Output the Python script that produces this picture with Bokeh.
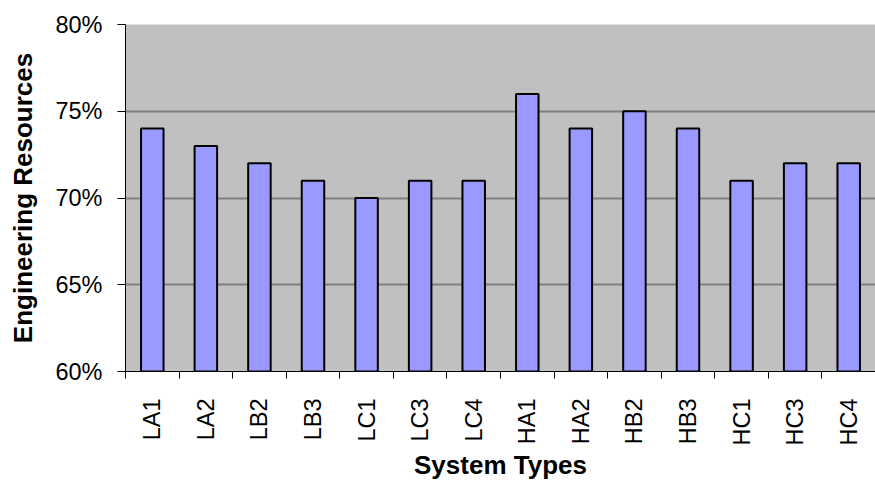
from bokeh.plotting import figure
from bokeh.models import FixedTicker, NumeralTickFormatter, Range1d, ColumnDataSource
from bokeh.embed import file_html
from bokeh.resources import INLINE
import math

categories = ["LA1", "LA2", "LB2", "LB3", "LC1", "LC3", "LC4",
              "HA1", "HA2", "HB2", "HB3", "HC1", "HC3", "HC4"]
values = [0.74, 0.73, 0.72, 0.71, 0.70, 0.71, 0.71,
          0.76, 0.74, 0.75, 0.74, 0.71, 0.72, 0.72]
y_ticks = [0.60, 0.65, 0.70, 0.75, 0.80]

n = len(categories)
xs = [i + 0.5 for i in range(n)]
src = ColumnDataSource(dict(x=xs, top=values, cat=categories))

p = figure(width=875, height=482, output_backend="svg", toolbar_location=None,
           x_range=Range1d(0, n), y_range=Range1d(0.60, 0.80))
p.min_border_left = 125
p.min_border_right = 0
p.min_border_top = 24
p.min_border_bottom = 110
p.background_fill_color = "#C0C0C0"
p.border_fill_color = "white"
p.outline_line_color = None

p.vbar(x="x", top="top", bottom=0.60, width=0.42, source=src,
       fill_color="#9999FF", line_color="black", line_width=2)

# x axis
p.xaxis.ticker = FixedTicker(ticks=xs, minor_ticks=list(range(n + 1)))
p.xaxis.major_label_overrides = {x: c for x, c in zip(xs, categories)}
p.xaxis.major_tick_out = 0
p.xaxis.major_tick_in = 0
p.xaxis.minor_tick_out = 7
p.xaxis.minor_tick_in = 0
p.xaxis.minor_tick_line_color = "black"
p.xaxis.axis_line_color = "black"
p.xaxis.axis_line_width = 1
p.xaxis.major_label_orientation = math.pi / 2
p.xaxis.major_label_text_font = "Liberation Sans"
p.xaxis.major_label_text_font_size = "23.5px"
p.xaxis.major_label_text_color = "black"
p.xaxis.major_label_standoff = 20
p.xaxis.axis_label = "System Types"
p.xaxis.axis_label_text_font = "Liberation Sans"
p.xaxis.axis_label_text_font_style = "bold"
p.xaxis.axis_label_text_font_size = "26px"
p.xaxis.axis_label_text_line_height = 0.9
p.xaxis.axis_label_text_color = "black"
p.xaxis.axis_label_standoff = 1

# y axis
p.yaxis.ticker = FixedTicker(ticks=y_ticks, minor_ticks=[])
p.yaxis.formatter = NumeralTickFormatter(format="0%")
p.yaxis.major_tick_out = 8
p.yaxis.major_tick_in = 0
p.yaxis.major_tick_line_color = "black"
p.yaxis.axis_line_color = "black"
p.yaxis.major_label_text_font = "Liberation Sans"
p.yaxis.major_label_text_font_size = "23.5px"
p.yaxis.major_label_text_color = "black"
p.yaxis.major_label_standoff = 15
p.yaxis.axis_label = "Engineering Resources"
p.yaxis.axis_label_text_font = "Liberation Sans"
p.yaxis.axis_label_text_font_style = "bold"
p.yaxis.axis_label_text_font_size = "26px"
p.yaxis.axis_label_text_color = "black"
p.yaxis.axis_label_standoff = 14

p.xgrid.grid_line_color = None
p.ygrid.ticker = FixedTicker(ticks=y_ticks)
p.ygrid.grid_line_color = "#808080"
p.ygrid.grid_line_width = 2

open("out.html", "w").write(file_html(p, INLINE))
